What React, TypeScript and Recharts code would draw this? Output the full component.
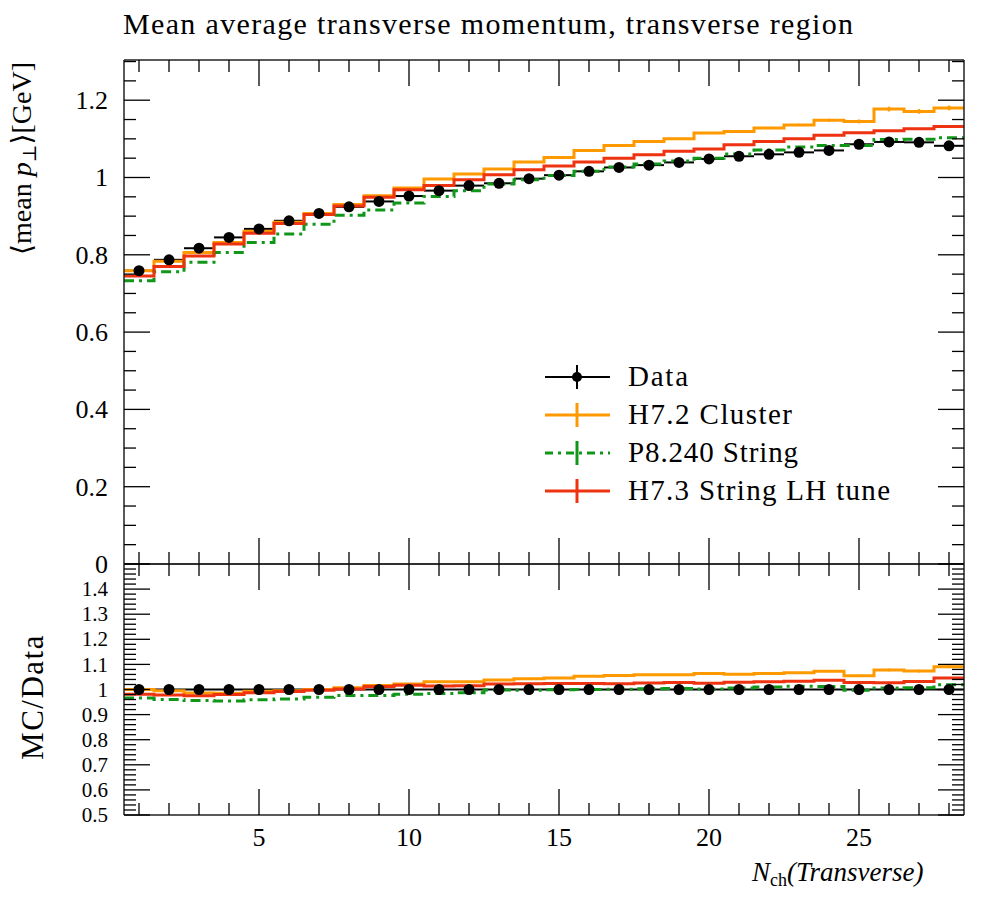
import React from 'react';
import { ComposedChart, Line, Scatter, XAxis, YAxis, ErrorBar, Legend } from 'recharts';

const FONT = "'Liberation Serif', 'DejaVu Serif', serif";

// ---- data ----
const nch = [1, 2, 3, 4, 5, 6, 7, 8, 9, 10, 11, 12, 13, 14, 15, 16, 17, 18, 19, 20, 21, 22, 23, 24, 25, 26, 27, 28];
const binEdges = [0.5, 1.5, 2.5, 3.5, 4.5, 5.5, 6.5, 7.5, 8.5, 9.5, 10.5, 11.5, 12.5, 13.5, 14.5, 15.5, 16.5, 17.5, 18.5, 19.5, 20.5, 21.5, 22.5, 23.5, 24.5, 25.5, 26.5, 27.5, 28.5];
const dataMean = [0.759, 0.787, 0.817, 0.845, 0.867, 0.888, 0.907, 0.924, 0.938, 0.952, 0.966, 0.979, 0.985, 0.997, 1.006, 1.016, 1.026, 1.032, 1.039, 1.048, 1.055, 1.060, 1.065, 1.070, 1.086, 1.092, 1.091, 1.082];
const dataErr = [0.002, 0.002, 0.002, 0.002, 0.002, 0.002, 0.002, 0.002, 0.002, 0.002, 0.002, 0.002, 0.002, 0.002, 0.002, 0.002, 0.002, 0.002, 0.002, 0.002, 0.002, 0.002, 0.003, 0.003, 0.003, 0.003, 0.004, 0.005];
const h72Cluster = [0.759, 0.783, 0.806, 0.832, 0.861, 0.884, 0.907, 0.930, 0.953, 0.973, 0.996, 1.009, 1.022, 1.040, 1.052, 1.070, 1.083, 1.093, 1.100, 1.115, 1.119, 1.128, 1.136, 1.148, 1.145, 1.177, 1.171, 1.180];
const h72Err = [0.001, 0.001, 0.001, 0.001, 0.001, 0.001, 0.001, 0.001, 0.001, 0.001, 0.001, 0.001, 0.001, 0.001, 0.002, 0.002, 0.002, 0.002, 0.002, 0.002, 0.002, 0.002, 0.003, 0.004, 0.005, 0.006, 0.006, 0.006];
const p8240String = [0.733, 0.756, 0.781, 0.806, 0.832, 0.854, 0.879, 0.902, 0.916, 0.934, 0.951, 0.966, 0.983, 0.994, 1.005, 1.016, 1.027, 1.035, 1.043, 1.050, 1.061, 1.071, 1.079, 1.083, 1.083, 1.098, 1.099, 1.103];
const h73StringLH = [0.745, 0.770, 0.797, 0.828, 0.856, 0.881, 0.904, 0.926, 0.949, 0.968, 0.979, 0.994, 1.007, 1.020, 1.030, 1.040, 1.050, 1.059, 1.068, 1.074, 1.085, 1.093, 1.100, 1.109, 1.116, 1.121, 1.126, 1.132];

const seriesNames = ['Data', 'H7.2 Cluster', 'P8.240 String', 'H7.3 String LH tune'];
const seriesColors = ['#000000', '#FF9900', '#109618', '#EE3311'];
const legendTextWidths = [60, 164, 170, 262];

// ---- ticks ----
const xMinorTicks = [1, 2, 3, 4, 5, 6, 7, 8, 9, 10, 11, 12, 13, 14, 15, 16, 17, 18, 19, 20, 21, 22, 23, 24, 25, 26, 27, 28];
const xMajorTicks = [5, 10, 15, 20, 25];
const xTickLabels = ['5', '10', '15', '20', '25'];
const mainYMajor = [0, 0.2, 0.4, 0.6, 0.8, 1, 1.2];
const mainYLabels = ['0', '0.2', '0.4', '0.6', '0.8', '1', '1.2'];
const mainYTicks = Array.from({ length: 27 }, (_, i) => Math.round(i * 5) / 100);
const ratioYMajor = [0.5, 0.6, 0.7, 0.8, 0.9, 1, 1.1, 1.2, 1.3, 1.4, 1.5];
const ratioYLabels = ['0.5', '0.6', '0.7', '0.8', '0.9', '1', '1.1', '1.2', '1.3', '1.4', ''];
const ratioYTicks = Array.from({ length: 51 }, (_, i) => Math.round(50 + 2 * i) / 100);

// ---- derived tables ----
const stepRows = binEdges.map((x, i) => {
  const j = Math.min(i, nch.length - 1);
  return {
    x,
    orange: h72Cluster[j],
    green: p8240String[j],
    red: h73StringLH[j],
    rOrange: h72Cluster[j] / dataMean[j],
    rGreen: p8240String[j] / dataMean[j],
    rRed: h73StringLH[j] / dataMean[j],
  };
});
const dataRows = nch.map((x, i) => ({ x, y: dataMean[i], ex: 0.5, ey: dataErr[i], r: 1, rey: dataErr[i] / dataMean[i] }));
const orangeErrRows = nch.map((x, i) => ({ x, y: h72Cluster[i], e: h72Err[i], r: h72Cluster[i] / dataMean[i], re: h72Err[i] / dataMean[i] }));

const MAJOR_LEN = 26;
const MINOR_LEN = 12;
const TICK_STROKE = 1.3;

const findIdx = (v: number, arr: number[]) => arr.findIndex((m) => Math.abs(m - v) < 1e-6);

function makeXTick(side: 'top' | 'bottom', withLabels: boolean) {
  return (props: any) => {
    const { x, y, payload } = props;
    const v = payload.value;
    const idx = findIdx(v, xMajorTicks);
    const len = idx >= 0 ? MAJOR_LEN : MINOR_LEN;
    const y2 = side === 'bottom' ? y - len : y + len;
    return (
      <g>
        <line x1={x} x2={x} y1={y} y2={y2} stroke="#000" strokeWidth={TICK_STROKE} />
        {withLabels && idx >= 0 ? (
          <text x={x} y={y + 31} textAnchor="middle" fontFamily={FONT} fontSize={26} fill="#000">
            {xTickLabels[idx]}
          </text>
        ) : null}
      </g>
    );
  };
}

function makeYTick(side: 'left' | 'right', majors: number[], labels: string[] | null, fontSize: number) {
  return (props: any) => {
    const { x, y, payload } = props;
    const v = payload.value;
    const idx = findIdx(v, majors);
    const len = idx >= 0 ? MAJOR_LEN : MINOR_LEN;
    const x2 = side === 'left' ? x + len : x - len;
    return (
      <g>
        <line x1={x} x2={x2} y1={y} y2={y} stroke="#000" strokeWidth={TICK_STROKE} />
        {labels && idx >= 0 && labels[idx] ? (
          <text x={x - 16} y={y} dy={fontSize * 0.34} textAnchor="end" fontFamily={FONT} fontSize={fontSize} fill="#000">
            {labels[idx]}
          </text>
        ) : null}
      </g>
    );
  };
}

const axisLine = { stroke: '#222', strokeWidth: 1.5 };
const DASHDOT = '10 5 3 5';

const Dot = (props: any) => {
  const { cx, cy } = props;
  if (cx == null || cy == null) return <g />;
  return <circle cx={cx} cy={cy} r={5.5} fill="#000" />;
};
const NoShape = () => <g />;

const renderLegend = () => {
  const rows = [22, 60, 98, 136];
  return (
    <svg width={380} height={160} style={{ overflow: 'visible' }}>
      {rows.map((ry, i) => (
        <g key={i}>
          <line
            x1={5}
            x2={70}
            y1={ry}
            y2={ry}
            stroke={seriesColors[i]}
            strokeWidth={i === 0 ? 2 : 3}
            strokeDasharray={i === 2 ? '8 5 3 5' : undefined}
          />
          <line x1={37} x2={37} y1={ry - 12} y2={ry + 12} stroke={seriesColors[i]} strokeWidth={i === 0 ? 2 : 3} />
          {i === 0 ? <circle cx={37} cy={ry} r={5} fill="#000" /> : null}
          <text x={88} y={ry} dy={9} fontFamily={FONT} fontSize={29} fill="#000" textLength={legendTextWidths[i]} lengthAdjust="spacing">
            {seriesNames[i]}
          </text>
        </g>
      ))}
    </svg>
  );
};

export default function App() {
  const commonX = {
    dataKey: 'x',
    type: 'number' as const,
    domain: [0.5, 28.5],
    allowDataOverflow: true,
    ticks: xMinorTicks,
    interval: 0 as const,
    height: 1,
    tickSize: 0,
    tickMargin: 0,
    tickLine: false,
    axisLine,
  };
  const commonY = {
    type: 'number' as const,
    allowDataOverflow: true,
    interval: 0 as const,
    width: 1,
    tickSize: 0,
    tickMargin: 0,
    tickLine: false,
    axisLine,
  };
  return (
    <div style={{ position: 'absolute', left: 0, top: 0, width: 996, height: 900, background: '#fff' }}>
      <div style={{ position: 'absolute', left: 0, top: 0 }}>
        <ComposedChart width={996} height={600} data={stepRows} margin={{ top: 59, right: 31, bottom: 35, left: 123 }}>
          <XAxis {...commonX} tick={makeXTick('bottom', false)} />
          <XAxis {...commonX} xAxisId="top" orientation="top" tick={makeXTick('top', false)} />
          <YAxis {...commonY} domain={[0, 1.304]} ticks={mainYTicks} tick={makeYTick('left', mainYMajor, mainYLabels, 26)} />
          <YAxis {...commonY} yAxisId="right" orientation="right" domain={[0, 1.304]} ticks={mainYTicks} tick={makeYTick('right', mainYMajor, null, 26)} />
          <Scatter data={dataRows} dataKey="y" shape={Dot} isAnimationActive={false}>
            <ErrorBar dataKey="ex" direction="x" width={0} stroke="#000" strokeWidth={2} />
            <ErrorBar dataKey="ey" direction="y" width={0} stroke="#000" strokeWidth={2} />
          </Scatter>
          <Line type="stepAfter" dataKey="orange" stroke="#FF9900" strokeWidth={3} dot={false} isAnimationActive={false} />
          <Scatter data={orangeErrRows} dataKey="y" shape={NoShape} isAnimationActive={false}>
            <ErrorBar dataKey="e" direction="y" width={0} stroke="#FF9900" strokeWidth={2.5} />
          </Scatter>
          <Line type="stepAfter" dataKey="green" stroke="#109618" strokeWidth={3} strokeDasharray={DASHDOT} dot={false} isAnimationActive={false} />
          <Line type="stepAfter" dataKey="red" stroke="#EE3311" strokeWidth={3} dot={false} isAnimationActive={false} />
          <Legend
            layout="vertical"
            align="center"
            verticalAlign="middle"
            content={renderLegend}
            wrapperStyle={{ left: 540, top: 355, width: 380, height: 160 }}
          />
        </ComposedChart>
      </div>
      <div style={{ position: 'absolute', left: 0, top: 540 }}>
        <ComposedChart width={996} height={360} data={stepRows} margin={{ top: 23, right: 31, bottom: 84, left: 123 }}>
          <XAxis {...commonX} tick={makeXTick('bottom', true)} />
          <XAxis {...commonX} xAxisId="top" orientation="top" tick={makeXTick('top', false)} />
          <YAxis {...commonY} domain={[0.5, 1.5]} ticks={ratioYTicks} tick={makeYTick('left', ratioYMajor, ratioYLabels, 21)} />
          <YAxis {...commonY} yAxisId="right" orientation="right" domain={[0.5, 1.5]} ticks={ratioYTicks} tick={makeYTick('right', ratioYMajor, null, 21)} />
          <Scatter data={dataRows} dataKey="r" shape={Dot} isAnimationActive={false}>
            <ErrorBar dataKey="ex" direction="x" width={0} stroke="#000" strokeWidth={2} />
            <ErrorBar dataKey="rey" direction="y" width={0} stroke="#000" strokeWidth={2} />
          </Scatter>
          <Line type="stepAfter" dataKey="rOrange" stroke="#FF9900" strokeWidth={3} dot={false} isAnimationActive={false} />
          <Scatter data={orangeErrRows} dataKey="r" shape={NoShape} isAnimationActive={false}>
            <ErrorBar dataKey="re" direction="y" width={0} stroke="#FF9900" strokeWidth={2.5} />
          </Scatter>
          <Line type="stepAfter" dataKey="rGreen" stroke="#109618" strokeWidth={3} strokeDasharray={DASHDOT} dot={false} isAnimationActive={false} />
          <Line type="stepAfter" dataKey="rRed" stroke="#EE3311" strokeWidth={3} dot={false} isAnimationActive={false} />
        </ComposedChart>
      </div>
      <svg width={996} height={900} style={{ position: 'absolute', left: 0, top: 0, pointerEvents: 'none' }}>
        <text x={123} y={34} fontFamily={FONT} fontSize={30} textLength={730} lengthAdjust="spacing" fill="#000">
          Mean average transverse momentum, transverse region
        </text>
        <text transform="translate(31,62) rotate(-90)" textAnchor="end" fontFamily={FONT} fontSize={28} fill="#000">
          <tspan>⟨mean </tspan>
          <tspan fontStyle="italic">p</tspan>
          <tspan fontSize={19} dy={5}>⊥</tspan>
          <tspan dy={-5}>⟩[GeV]</tspan>
        </text>
        <text transform="translate(43,697) rotate(-90)" textAnchor="middle" fontFamily={FONT} fontSize={31} letterSpacing={1.5} fill="#000">
          MC/Data
        </text>
        <text x={752} y={881} fontFamily={FONT} fontSize={27} fill="#000">
          <tspan fontStyle="italic">N</tspan>
          <tspan fontSize={18} dy={5}>ch</tspan>
          <tspan dy={-5} fontStyle="italic">(Transverse)</tspan>
        </text>
      </svg>
    </div>
  );
}
